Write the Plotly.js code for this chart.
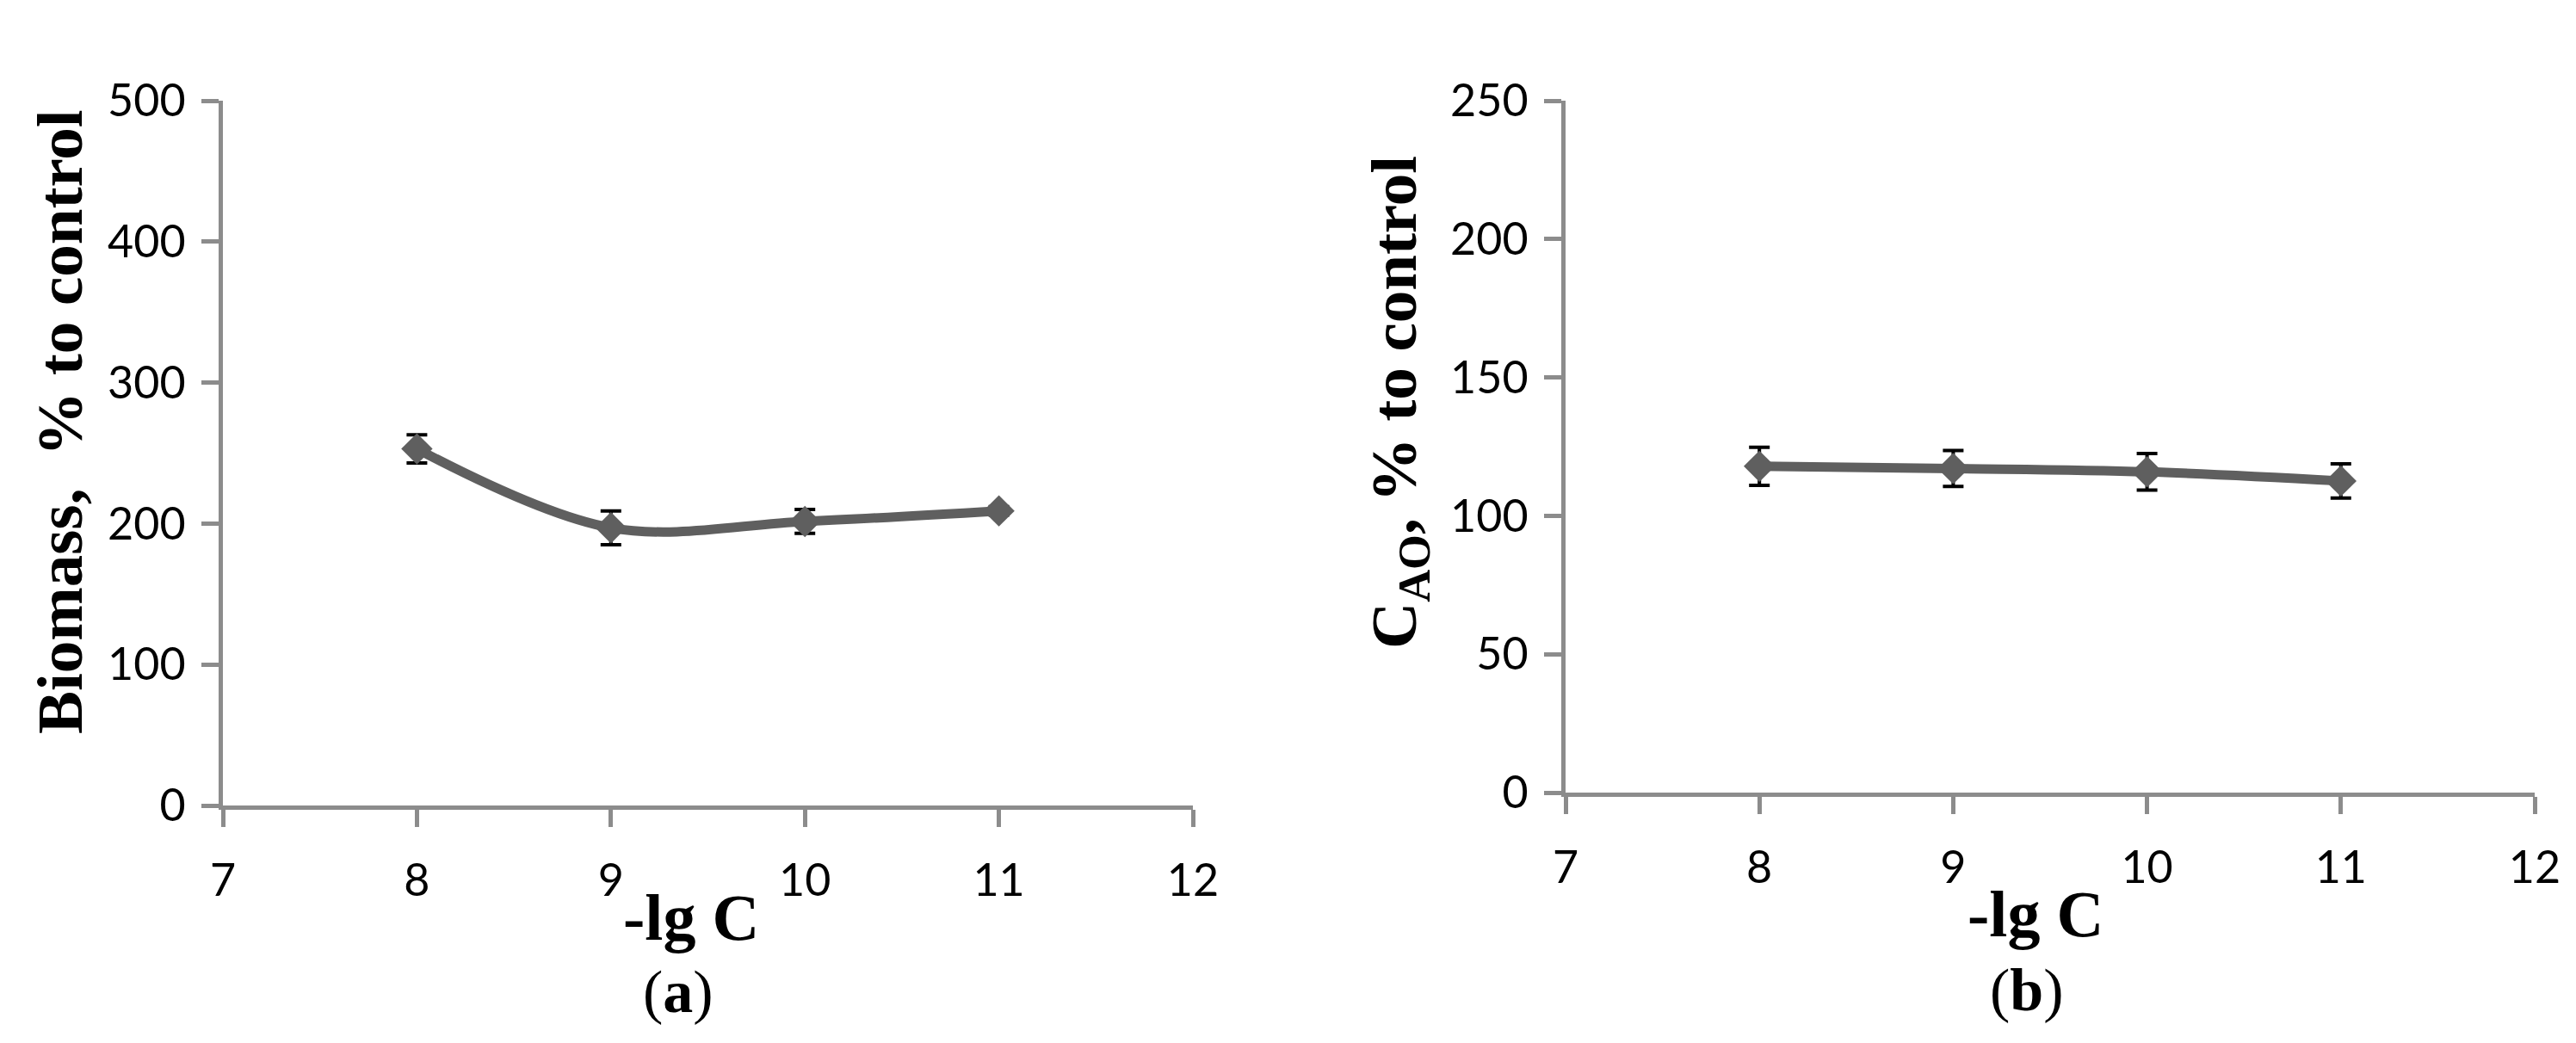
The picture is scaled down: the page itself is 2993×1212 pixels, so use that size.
<!DOCTYPE html>
<html>
<head>
<meta charset="utf-8">
<script src="https://cdn.plot.ly/plotly-3.0.1.min.js"></script>
<style>html,body{margin:0;padding:0;background:#fff;}#chart{width:2993px;height:1212px;}</style>
</head>
<body>
<div id="chart"></div>
<script>
// Data
const lgC = [8, 9, 10, 11];
const biomass = [253, 197, 201.5, 209];
const biomassErr = [10, 12, 8.5, 3];
const cao = [117.9, 117.1, 115.9, 112.6];
const caoErr = [6.9, 6.5, 6.6, 6.2];
const xTicks = [7, 8, 9, 10, 11, 12];
const xTitle = '<b>-lg C</b>';
const yTitleA = '<b>Biomass,  % to control</b>';
const yTitleB = '<b>C<sub>AO</sub>, % to control</b>';
const panelLabels = ['(<b>a</b>)', '(<b>b</b>)'];

const lineColor = '#5f5f5f';
const axisColor = '#8c8c8c';
const tickFont = {family: 'Lato, "Liberation Sans", sans-serif', size: 52, color: '#000'};
const serif = '"Liberation Serif", "DejaVu Serif", serif';
const titleFont = {family: serif, size: 75, color: '#000'};

function series(y, err, xa, ya) {
  return {
    x: lgC, y: y, xaxis: xa, yaxis: ya,
    type: 'scatter', mode: 'lines+markers',
    line: {color: lineColor, width: 11, shape: 'spline', smoothing: 1},
    marker: {symbol: 'diamond', size: 28, color: lineColor},
    error_y: {type: 'data', array: err, visible: true, color: '#000', thickness: 4, width: 12},
    showlegend: false, hoverinfo: 'x+y'
  };
}

const data = [series(biomass, biomassErr, 'x', 'y'), series(cao, caoErr, 'x2', 'y2')];

function xaxis(domain, anchor) {
  return {
    domain: domain, anchor: anchor, range: [7, 12], tickvals: xTicks,
    showline: true, linecolor: axisColor, linewidth: 5, mirror: false,
    ticks: 'outside', ticklen: 20, tickwidth: 5, tickcolor: axisColor,
    showgrid: false, zeroline: false, tickfont: tickFont, ticklabelstandoff: 18
  };
}
function yaxis(domain, anchor, max, dtick) {
  return {
    domain: domain, anchor: anchor, range: [0, max], dtick: dtick, tick0: 0,
    showline: true, linecolor: axisColor, linewidth: 5,
    ticks: 'outside', ticklen: 20, tickwidth: 5, tickcolor: axisColor,
    showgrid: false, zeroline: false, tickfont: tickFont, ticklabelstandoff: 8
  };
}

function ann(text, x, y, size, angle) {
  return {text: text, xref: 'paper', yref: 'paper', x: x / 2993, y: (1212 - y) / 1212,
    xanchor: 'center', yanchor: 'middle', showarrow: false, textangle: angle || 0,
    font: {family: serif, size: size, color: '#000'}};
}

const layout = {
  width: 2993, height: 1212,
  margin: {l: 0, r: 0, t: 0, b: 0},
  paper_bgcolor: '#fff', plot_bgcolor: '#fff',
  xaxis: xaxis([259/2993, 1386/2993], 'y'),
  yaxis: yaxis([(1212-936)/1212, (1212-117)/1212], 'x', 500, 100),
  xaxis2: xaxis([1819/2993, 2945/2993], 'y2'),
  yaxis2: yaxis([(1212-921)/1212, (1212-117)/1212], 'x2', 250, 50),
  annotations: [
    ann(yTitleA, 70, 490, 75, -90),
    ann(yTitleB, 1625, 468, 75, -90),
    ann(xTitle, 803, 1066, 76),
    ann(xTitle, 2365, 1062, 76),
    ann(panelLabels[0], 788, 1152, 70),
    ann(panelLabels[1], 2355, 1150, 70)
  ]
};

Plotly.newPlot('chart', data, layout, {staticPlot: true, displayModeBar: false});
</script>
</body>
</html>
